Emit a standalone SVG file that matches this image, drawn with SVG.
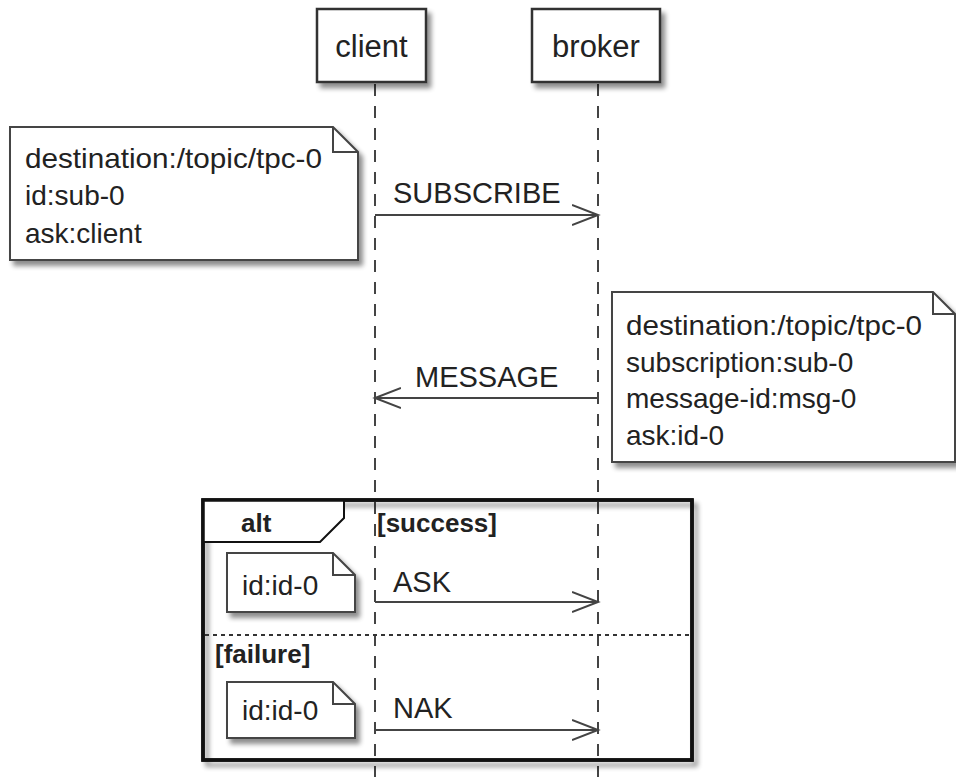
<svg xmlns="http://www.w3.org/2000/svg" width="956" height="777" viewBox="0 0 956 777">
<defs>
<filter id="sh" x="-10%" y="-10%" width="130%" height="140%">
<feGaussianBlur in="SourceAlpha" stdDeviation="2.5"/>
<feOffset dx="4" dy="5" result="b"/>
<feComponentTransfer><feFuncA type="linear" slope="0.45"/></feComponentTransfer>
<feMerge><feMergeNode/><feMergeNode in="SourceGraphic"/></feMerge>
</filter>
<marker id="ah" markerUnits="userSpaceOnUse" markerWidth="30" markerHeight="24" refX="26" refY="11" orient="auto">
<polyline points="0,1 26,11 0,21" fill="none" stroke="#444" stroke-width="2"/>
</marker>
</defs>
<style>
.box{fill:#fff;stroke:#333;stroke-width:2.5}
.note{fill:#fff;stroke:#444;stroke-width:2}
.fold{fill:none;stroke:#444;stroke-width:2}
.life{stroke:#444;stroke-width:2;stroke-dasharray:12,10;fill:none}
.msg{stroke:#444;stroke-width:2;fill:none;marker-end:url(#ah)}
text{font-family:"Liberation Sans",Arial,sans-serif;fill:#222}
.pt{font-size:31px}
.nt{font-size:28px}
.mt{font-size:29px}
.bt{font-size:26px;font-weight:bold}
</style>
<rect width="956" height="777" fill="#fff"/>

<g id="lifelines">
<line class="life" x1="375" y1="84" x2="375" y2="777"/>
<line class="life" x1="598" y1="84" x2="598" y2="777"/>
</g>

<g id="client">
<rect class="box" x="317" y="9" width="109" height="73" filter="url(#sh)"/>
<text class="pt" x="371.5" y="57" text-anchor="middle">client</text>
</g>
<g id="broker">
<rect class="box" x="532" y="9" width="128" height="73" filter="url(#sh)"/>
<text class="pt" x="596" y="57" text-anchor="middle">broker</text>
</g>

<g id="note-subscribe">
<path class="note" d="M10,127 H333 L358,152 V260 H10 Z" filter="url(#sh)"/>
<path class="fold" d="M333,127 V152 H358"/>
<text class="nt" x="25" y="168" textLength="297" lengthAdjust="spacingAndGlyphs">destination:/topic/tpc-0</text>
<text class="nt" x="25" y="205">id:sub-0</text>
<text class="nt" x="25" y="243">ask:client</text>
</g>

<g id="note-message">
<path class="note" d="M612,292 H933 L955,314 V462 H612 Z" filter="url(#sh)"/>
<path class="fold" d="M933,292 V314 H955"/>
<text class="nt" x="626" y="335" textLength="296" lengthAdjust="spacingAndGlyphs">destination:/topic/tpc-0</text>
<text class="nt" x="626" y="372">subscription:sub-0</text>
<text class="nt" x="626" y="408">message-id:msg-0</text>
<text class="nt" x="626" y="445">ask:id-0</text>
</g>

<g id="alt-frame">
<rect x="203" y="500" width="489" height="260" fill="none" stroke="#111" stroke-width="3.5" filter="url(#sh)"/>
<path d="M203,500 H344 V518 L320,542 H203 Z" fill="#fff" stroke="#111" stroke-width="2"/>
<rect x="203" y="500" width="489" height="260" fill="none" stroke="#111" stroke-width="3.5"/>
<text class="bt" x="241" y="532">alt</text>
<text class="bt" x="377" y="532">[success]</text>
<line x1="205" y1="635" x2="690" y2="635" stroke="#333" stroke-width="2" stroke-dasharray="4,4"/>
<text class="bt" x="215" y="663">[failure]</text>
</g>

<g id="note-ask">
<path class="note" d="M227,553 H333 L355,575 V612 H227 Z" filter="url(#sh)"/>
<path class="fold" d="M333,553 V575 H355"/>
<text class="nt" x="242" y="595">id:id-0</text>
</g>

<g id="note-nak">
<path class="note" d="M227,682 H333 L355,704 V738 H227 Z" filter="url(#sh)"/>
<path class="fold" d="M333,682 V704 H355"/>
<text class="nt" x="242" y="720">id:id-0</text>
</g>

<g id="connectors">
<line class="msg" x1="375" y1="215" x2="598" y2="215"/>
<text class="mt" x="393" y="203">SUBSCRIBE</text>
<line class="msg" x1="598" y1="398" x2="375" y2="398"/>
<text class="mt" x="415" y="387">MESSAGE</text>
<line class="msg" x1="375" y1="602" x2="598" y2="602"/>
<text class="mt" x="393" y="592">ASK</text>
<line class="msg" x1="375" y1="730" x2="598" y2="730"/>
<text class="mt" x="393" y="718">NAK</text>
</g>
</svg>
